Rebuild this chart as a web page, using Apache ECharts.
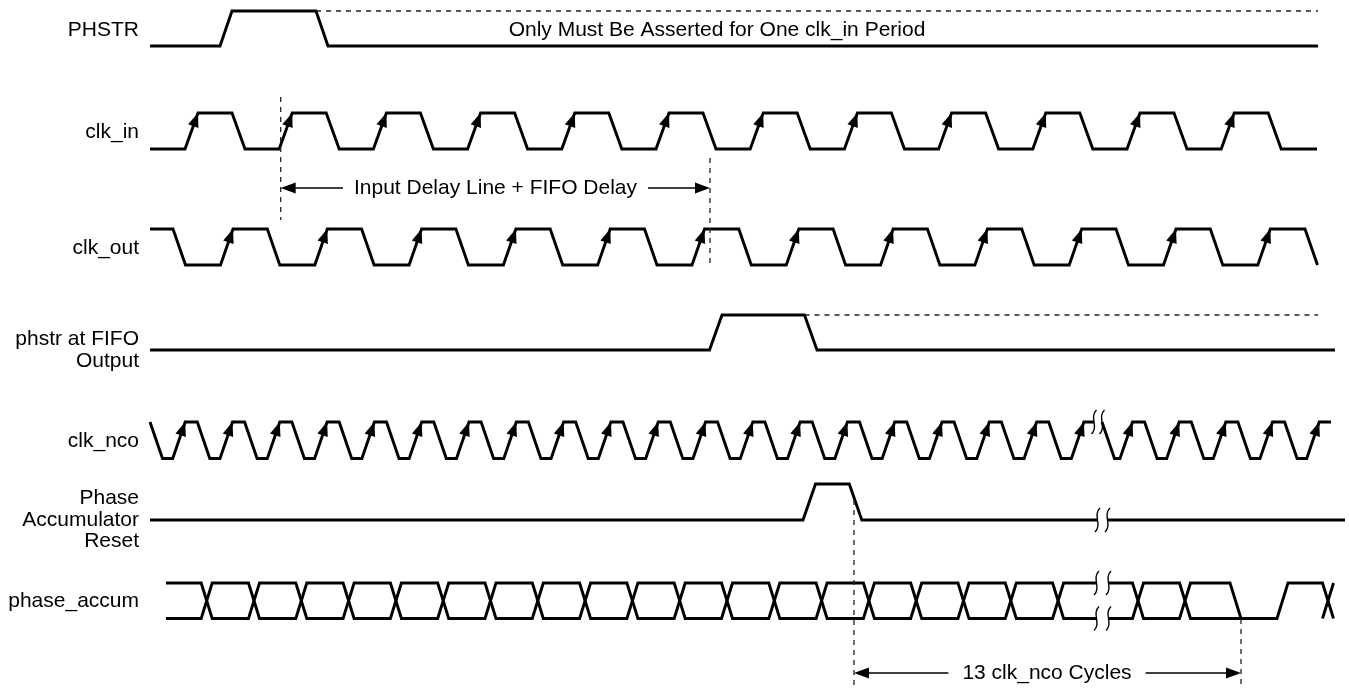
<!DOCTYPE html>
<html><head><meta charset="utf-8">
<script src="https://cdn.jsdelivr.net/npm/echarts@6/dist/echarts.min.js"></script>
<style>html,body{margin:0;padding:0;background:#fff}#c{width:1349px;height:689px}</style>
</head><body><div id="c"></div>
<script>
// ===== DATA (time units along the diagram, logic levels 0/1) =====
const signalNames = ['PHSTR', 'clk_in', 'clk_out', 'phstr at FIFO\nOutput', 'clk_nco', 'Phase\nAccumulator\nReset', 'phase_accum'];
const phstrToggles = [70, 166];
const clkInRise = [35, 129.2, 223.4, 317.6, 411.8, 506, 600.2, 694.4, 788.6, 882.8, 977, 1071.2];
const clkInFall = [82, 176.2, 270.4, 364.6, 458.8, 553, 647.2, 741.4, 835.6, 929.8, 1024, 1118.2];
const clkOutFall = [23, 117.3, 211.6, 305.9, 400.2, 494.5, 588.8, 683.1, 777.4, 871.7, 966, 1060.3, 1155];
const clkOutRise = [70.5, 164.8, 259.1, 353.4, 447.7, 542, 636.3, 730.6, 824.9, 919.2, 1013.5, 1107.8];
const fifoToggles = [559.5, 654.5];
const ncoRise = [22.7, 70, 117.3, 164.6, 211.9, 259.2, 306.5, 353.8, 401.1, 448.4, 495.7, 543, 590.3, 637.6, 684.9, 732.2, 779.5, 826.8, 874.1, 921.4, 970, 1016.7, 1063.3, 1110, 1156.7];
const ncoFall = [0, 47.3, 94.6, 141.9, 189.2, 236.5, 283.8, 331.1, 378.4, 425.7, 473, 520.3, 567.6, 614.9, 662.2, 709.5, 756.8, 804.1, 851.4, 898.7, 952, 994.6, 1041.3, 1087.9, 1134.6];
const resetToggles = [653, 699.3];
const accumX = [56.7, 104, 151.3, 198.6, 245.9, 293.2, 340.5, 387.8, 435.1, 482.4, 529.7, 577, 624.3, 671.6, 718.9, 766.2, 813.5, 860.8, 908.1, 988, 1035];
const accumSettle = [1080, 1127];   // upper trace drops to low, then single trace rises
const accumFinalX = 1178;
const signalStart = [0, 0, 0, 0, 0, 0, 16];
const signalStartLevel = [0, 0, 1, 0, 1, 0, 1];
const signalEnd = [1168, 1167, 1168, 1185, 1181, 1195, 1183];
const heldHighEnd = [1168, null, null, 1168];          // dashed "held" continuation
const ncoBreak = [944, 952], resetBreak = [947.5, 957.5], accumBreak = [946.5, 958.5];
const delayMarks = [130.7, 560];   // Input Delay Line + FIFO Delay
const cycleMarks = [704, 1091];    // 13 clk_nco Cycles
const phstrNote = 'Only Must Be Asserted for One clk_in Period';
const delayNote = 'Input Delay Line + FIFO Delay';
const cycleNote = '13 clk_nco Cycles';

// ===== LAYOUT / STYLE =====
const LANES = [{hi:11,lo:46},{hi:113,lo:149},{hi:229,lo:265},{hi:315,lo:350},{hi:422,lo:458.5},{hi:484,lo:520},{hi:583,lo:618.5}];
const LABEL_Y = [30, 132, 248, 350, 441, 520, 601];
const SLEW = [12, 13, 12.5, 12.5, 12.5, 12.5, 11];
const XHALF = 5.5;
const FONT = '21px "Liberation Sans", Arial, sans-serif';
const W = 2.9;
const dashStyle = {color:'#222', width:1.3, type:[5,5]};

const Y = (lane, L) => LANES[lane].lo - L * (LANES[lane].lo - LANES[lane].hi);
const merge = (a, b) => a.concat(b).sort((x, y) => x - y);

function levelWave(i, toggles, brk) {
  const s = SLEW[i]; let L = signalStartLevel[i];
  const pts = [[signalStart[i], L]]; let done = !brk;
  toggles.forEach(t => {
    if (!done && brk[0] < t) { pts.push([brk[0], L], [brk[0], '-'], [brk[1], L]); done = true; }
    pts.push([t, L], [t + s, 1 - L]); L = 1 - L;
  });
  if (!done) pts.push([brk[0], L], [brk[0], '-'], [brk[1], L]);
  pts.push([signalEnd[i], L]);
  return pts;
}
function busWave(i) {
  const h = XHALF, s = SLEW[i];
  const A = [[signalStart[i], 1]], B = [[signalStart[i], 0]];
  let la = 1, lb = 0, done = false;
  accumX.forEach(c => {
    if (!done && accumBreak[0] < c) {
      A.push([accumBreak[0], la], [accumBreak[0], '-'], [accumBreak[1], la]);
      B.push([accumBreak[0], lb], [accumBreak[0], '-'], [accumBreak[1], lb]);
      done = true;
    }
    A.push([c - h, la], [c + h, 1 - la]); la = 1 - la;
    B.push([c - h, lb], [c + h, 1 - lb]); lb = 1 - lb;
  });
  const up = la === 1 ? A : B, dn = la === 1 ? B : A;
  up.push([accumSettle[0], 1], [accumSettle[0] + s, 0], [accumSettle[1], 0], [accumSettle[1] + s, 1],
          [accumFinalX - h, 1], [accumFinalX + h, 0]);
  dn.push([accumSettle[0] + s, 0], [accumSettle[0] + s, '-'], [accumFinalX - h, 0], [accumFinalX + h, 1]);
  return [A, B];
}
const toXY = (lane, pts) => pts.map(p => p[1] === '-' ? [p[0], '-'] : [p[0], Y(lane, p[1])]);

const waves = [
  levelWave(0, phstrToggles),
  levelWave(1, merge(clkInRise, clkInFall)),
  levelWave(2, merge(clkOutFall, clkOutRise)),
  levelWave(3, fifoToggles),
  levelWave(4, merge(ncoFall, ncoRise), ncoBreak),
  levelWave(5, resetToggles, resetBreak)
].map((p, i) => toXY(i, p));
const bus = busWave(6).map(p => toXY(6, p));

const lineSeries = (data, style) => ({
  type:'line', data, symbol:'none', showSymbol:false, connectNulls:false, animation:false, silent:true,
  lineStyle: style || {color:'#000', width:W, join:'miter'}, z:3
});

// dashed held-high lines and vertical markers
const dashed = [
  [[phstrToggles[1], Y(0,1)], [heldHighEnd[0], Y(0,1)]],
  [[fifoToggles[1], Y(3,1)], [heldHighEnd[3], Y(3,1)]]
];
const vmarks = [
  [[delayMarks[0], 97], [delayMarks[0], 220]],
  [[delayMarks[1], 158], [delayMarks[1], 268]],
  [[cycleMarks[0], 500], [cycleMarks[0], 689]],
  [[cycleMarks[1], 619], [cycleMarks[1], 689]]
];
let dashData = [];
dashed.concat(vmarks).forEach(seg => { dashData.push(seg[0], seg[1], [seg[1][0], '-']); });

// clock rising-edge arrows
const arrowData = [];
[[1, clkInRise], [2, clkOutRise], [4, ncoRise]].forEach(([ln, rs]) => rs.forEach(r => arrowData.push([r, Y(ln,0), r + SLEW[ln], Y(ln,1)])));

// break squiggles
const squig = [
  [ncoBreak[0], Y(4,1)], [ncoBreak[1], Y(4,1)],
  [resetBreak[0], Y(5,0)], [resetBreak[1], Y(5,0)],
  [accumBreak[0], Y(6,1)], [accumBreak[1], Y(6,1)], [accumBreak[0], Y(6,0)], [accumBreak[1], Y(6,0)]
];

function head(tip, from, L, Wd) {
  const dx = tip[0]-from[0], dy = tip[1]-from[1], len = Math.hypot(dx, dy);
  const ux = dx/len, uy = dy/len, bx = tip[0]-ux*L, by = tip[1]-uy*L, nx = -uy, ny = ux;
  return {type:'polygon', shape:{points:[tip, [bx+nx*Wd/2, by+ny*Wd/2], [bx-nx*Wd/2, by-ny*Wd/2]]}, style:{fill:'#000'}};
}

// labels + annotations
const labelData = signalNames.map((n, i) => [-11, LABEL_Y[i], n]);
const annot = [
  {kind:'dim', t0:delayMarks[0], t1:delayMarks[1], y:188, text:delayNote, tx:345.5, pad:11},
  {kind:'dim', t0:cycleMarks[0], t1:cycleMarks[1], y:673, text:cycleNote, tx:897, pad:14},
  {kind:'note', tx:567, y:30, text:phstrNote}
];

const option = {
  animation:false,
  grid:{left:0, right:0, top:0, bottom:0},
  xAxis:{type:'value', min:-150, max:1199, show:false},
  yAxis:{type:'value', min:0, max:689, inverse:true, show:false},
  series: [
    ...waves.map(d => lineSeries(d)),
    lineSeries(bus[0]), lineSeries(bus[1]),
    lineSeries(dashData, dashStyle),
    { type:'custom', data:arrowData, encode:{x:[0,2], y:[1,3]}, silent:true, z:5,
      renderItem:(p, api) => head(api.coord([api.value(2), api.value(3)]), api.coord([api.value(0), api.value(1)]), 14, 11) },
    { type:'custom', data:squig, encode:{x:0, y:1}, silent:true, z:6,
      renderItem:(p, api) => { const c = api.coord([api.value(0), api.value(1)]); const x = c[0], y = c[1];
        return {type:'bezierCurve', shape:{x1:x+2.5, y1:y-12, cpx1:x-5, cpy1:y-5, cpx2:x+5, cpy2:y+5, x2:x-2.5, y2:y+12},
          style:{stroke:'#000', lineWidth:1.4, fill:null}}; } },
    { type:'custom', data:labelData, encode:{x:0, y:1}, silent:true, z:6,
      renderItem:(p, api) => { const c = api.coord([api.value(0), api.value(1)]);
        return {type:'text', style:{text:labelData[p.dataIndex][2], x:c[0], y:c[1], align:'right', verticalAlign:'middle', font:FONT, lineHeight:21.5, fill:'#000'}}; } },
    { type:'custom', data:annot.map((a, i) => [a.tx, a.y, i]), encode:{x:0, y:1}, silent:true, z:7,
      renderItem:(p, api) => {
        const a = annot[p.dataIndex]; const children = [];
        const tc = api.coord([a.tx, a.y]);
        if (a.kind === 'dim') {
          const l = api.coord([a.t0, a.y]), r = api.coord([a.t1, a.y]);
          children.push({type:'line', shape:{x1:l[0]+10, y1:l[1], x2:r[0]-10, y2:r[1]}, style:{stroke:'#000', lineWidth:1.5}});
          children.push(head(l, r, 15, 11), head(r, l, 15, 11));
          children.push({type:'text', z2:10, style:{text:a.text, x:tc[0], y:tc[1], align:'center', verticalAlign:'middle', font:FONT, fill:'#000', backgroundColor:'#fff', padding:[0, a.pad]}});
        } else {
          children.push({type:'text', style:{text:a.text, x:tc[0], y:tc[1], align:'center', verticalAlign:'middle', font:FONT, fill:'#000'}});
        }
        return {type:'group', children};
      } }
  ]
};
const chart = echarts.init(document.getElementById('c'), null, {renderer:'canvas'});
chart.setOption(option);
</script></body></html>
